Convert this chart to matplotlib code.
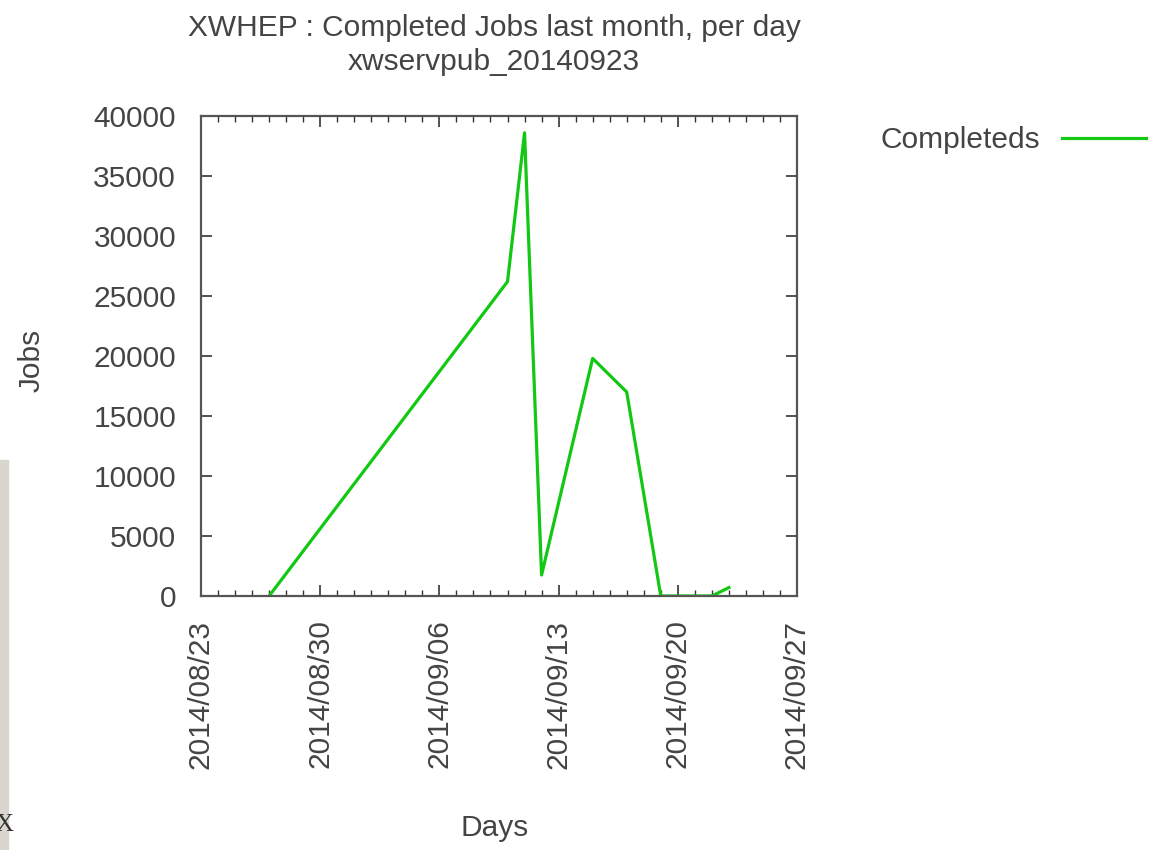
import matplotlib
matplotlib.use('Agg')
import matplotlib.pyplot as plt
import matplotlib.dates as mdates
from matplotlib.patches import Rectangle
import pandas as pd

plt.rcParams['font.family'] = ['Liberation Sans', 'DejaVu Sans']

# Jobs terminés par jour
days = ['2014-08-27', '2014-09-10', '2014-09-11', '2014-09-12',
        '2014-09-15', '2014-09-17', '2014-09-19', '2014-09-22',
        '2014-09-23']
completeds = [0, 26200, 38600, 1750, 19800, 17000, 0, 0, 700]

x_start, x_end = '2014-08-23', '2014-09-27'
y_ticks = [0, 5000, 10000, 15000, 20000, 25000, 30000, 35000, 40000]

title = 'XWHEP : Completed Jobs last month, per day\nxwservpub_20140923'

W, H = 1171, 850
FS = 21.5

dates = pd.to_datetime(days)
major = pd.date_range(x_start, x_end, freq='7D')
minor = pd.date_range(x_start, x_end, freq='D')

fig = plt.figure(figsize=(W / 100, H / 100), dpi=100)
ax = fig.add_axes([201 / W, 1 - 596 / H, 596 / W, 480 / H])

line, = ax.plot(dates, completeds, color='#12c812', lw=2.3)

ax.set_xlim(pd.Timestamp(x_start), pd.Timestamp(x_end))
ax.set_ylim(0, 40000)
ax.set_xticks(major)
ax.set_xticks(minor, minor=True)
ax.xaxis.set_major_formatter(mdates.DateFormatter('%Y/%m/%d'))
ax.set_yticks(y_ticks)

txt = '#444444'
ax.tick_params(axis='both', which='both', direction='in', top=True,
               right=True, colors='#333333', labelcolor=txt, labelsize=FS)
ax.tick_params(axis='both', which='major', length=8, width=1.2)
ax.tick_params(axis='both', which='minor', length=4, width=1)
ax.tick_params(axis='x', which='major', labelrotation=90, pad=17)
ax.tick_params(axis='y', which='major', pad=18)
for s in ax.spines.values():
    s.set_color('#555555')
    s.set_linewidth(1.6)

fig.text(495 / W, 1 - 828 / H, 'Days', ha='center', va='center',
         fontsize=FS, color=txt)
fig.text(32 / W, 1 - 360 / H, 'Jobs', ha='center', va='center',
         rotation=90, fontsize=FS, color=txt)

fig.text(494 / W, 1 - 45 / H, title, ha='center', va='center',
         fontsize=FS, color=txt, linespacing=1.25)

fig.legend([line], ['Completeds'], loc='center right',
           bbox_to_anchor=(1146 / W, 1 - 140 / H), frameon=False,
           markerfirst=False, handlelength=2.8, handletextpad=0.75,
           borderpad=0, borderaxespad=0, fontsize=FS, labelcolor=txt)

# bord gauche de la capture
fig.patches.append(Rectangle((0, 0), 8 / W, 390 / H,
                             transform=fig.transFigure,
                             color='#d9d6d0', zorder=0))
fig.text(-0.004, 1 - 825 / H, 'X', family='Liberation Serif',
         fontsize=18, color='#333333', va='center')

fig.savefig('out.png', dpi=100)
